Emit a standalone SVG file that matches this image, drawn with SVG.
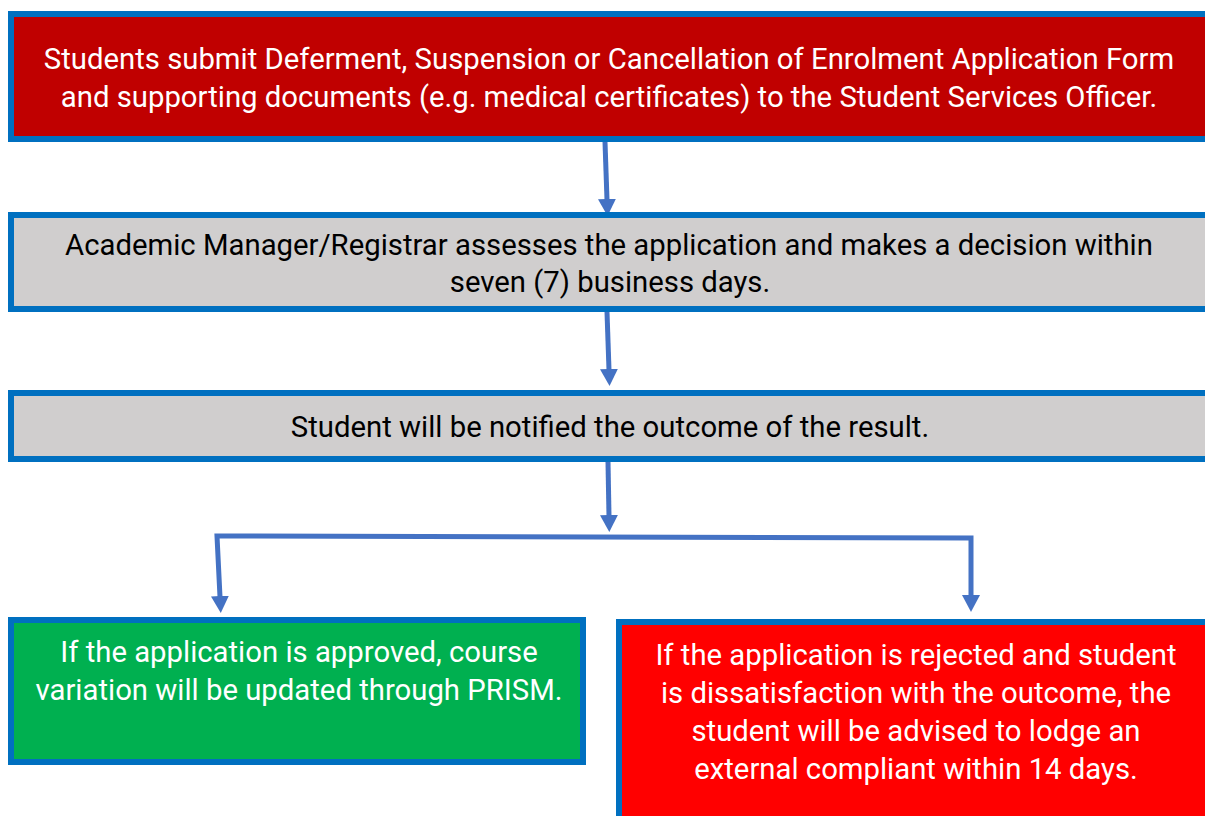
<svg xmlns="http://www.w3.org/2000/svg" width="1205" height="816" viewBox="0 0 1205 816">
<defs>
<marker id="ah" markerUnits="userSpaceOnUse" viewBox="0 0 17 18" markerWidth="17" markerHeight="18" refX="1" refY="9" orient="auto">
<path d="M0,0 L17,9 L0,18 z" fill="#4472C4"/>
</marker>
<style>
.box{stroke:#0070C0;stroke-width:6}
.t{font-family:Roboto,"Liberation Sans",sans-serif;font-size:29.3px;text-anchor:middle}
.w{fill:#FFFFFF}
.k{fill:#000000}
.c{fill:none;stroke:#4472C4;stroke-width:5;stroke-linejoin:miter}
</style>
</defs>
<rect width="1205" height="816" fill="#FFFFFF"/>
<g id="connectors">
<path class="c" d="M605,142 L607,200" marker-end="url(#ah)"/>
<path class="c" d="M607,312 L609,370" marker-end="url(#ah)"/>
<path class="c" d="M608,462 L609,516" marker-end="url(#ah)"/>
<path class="c" d="M594,537 L217,536 L220,597" marker-end="url(#ah)"/>
<path class="c" d="M594,537 L971,538 L971,596" marker-end="url(#ah)"/>
</g>
<g id="node-submit">
<rect class="box" x="11" y="14" width="1197" height="125" fill="#C00000"/>
<text class="t w" x="609" y="69">Students submit Deferment, Suspension or Cancellation of Enrolment Application Form</text>
<text class="t w" x="609" y="107">and supporting documents (e.g. medical certificates) to the Student Services Officer.</text>
</g>
<g id="node-assess">
<rect class="box" x="11" y="215" width="1197" height="94" fill="#D0CECE"/>
<text class="t k" x="609" y="255">Academic Manager/Registrar assesses the application and makes a decision within</text>
<text class="t k" x="610" y="292">seven (7) business days.</text>
</g>
<g id="node-notify">
<rect class="box" x="11" y="393" width="1197" height="66" fill="#D0CECE"/>
<text class="t k" x="610" y="437">Student will be notified the outcome of the result.</text>
</g>
<g id="node-approved">
<rect class="box" x="11" y="620" width="572" height="142" fill="#00B050"/>
<text class="t w" x="299" y="662">If the application is approved, course</text>
<text class="t w" x="299" y="700">variation will be updated through PRISM.</text>
</g>
<g id="node-rejected">
<rect class="box" x="619" y="622" width="600" height="210" fill="#FF0000"/>
<text class="t w" x="916" y="665">If the application is rejected and student</text>
<text class="t w" x="916" y="703">is dissatisfaction with the outcome, the</text>
<text class="t w" x="916" y="741">student will be advised to lodge an</text>
<text class="t w" x="916" y="779">external compliant within 14 days.</text>
</g>
</svg>
